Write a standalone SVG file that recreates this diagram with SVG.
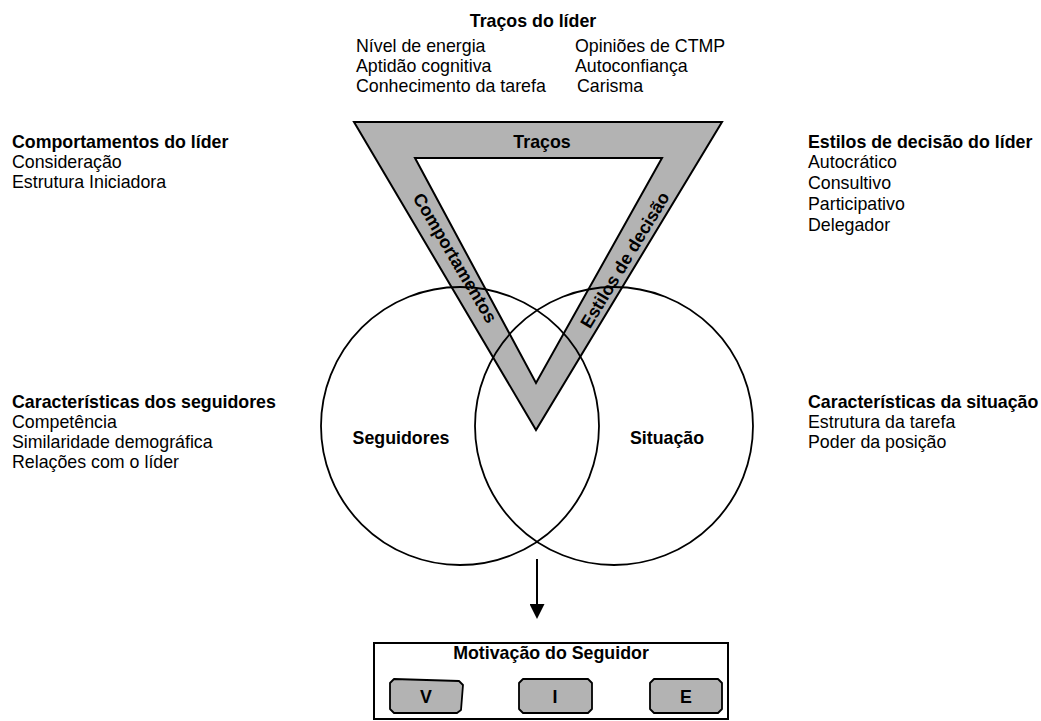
<svg xmlns="http://www.w3.org/2000/svg" width="1041" height="721" viewBox="0 0 1041 721">
<defs>
<style>
text{font-family:"Liberation Sans",Arial,sans-serif;font-size:17.8px;fill:#000}
.b{font-weight:bold}
.band{fill:#b3b3b3;stroke:#000;stroke-width:2;stroke-linejoin:miter}
.circ{fill:none;stroke:#000;stroke-width:1.8}
.vbox{fill:#b3b3b3;stroke:#000;stroke-width:1.8;stroke-linejoin:round}
</style>
<marker id="ah" markerWidth="15" markerHeight="15" refX="0" refY="7.5" orient="auto" markerUnits="userSpaceOnUse" viewBox="0 0 15 15"><path d="M0,0 L15,7.5 L0,15 z" fill="#000"/></marker>
</defs>
<rect width="1041" height="721" fill="#fff"/>

<g id="traits-list">
<text class="b" x="533" y="27" text-anchor="middle">Traços do líder</text>
<text x="356" y="52">Nível de energia</text>
<text x="356" y="72">Aptidão cognitiva</text>
<text x="356" y="92">Conhecimento da tarefa</text>
<text x="575" y="52">Opiniões de CTMP</text>
<text x="575" y="72">Autoconfiança</text>
<text x="577" y="92">Carisma</text>
</g>

<g id="behaviors-list">
<text class="b" x="12" y="148">Comportamentos do líder</text>
<text x="12" y="168">Consideração</text>
<text x="12" y="188">Estrutura Iniciadora</text>
</g>

<g id="decision-list">
<text class="b" x="808" y="148">Estilos de decisão do líder</text>
<text x="808" y="168">Autocrático</text>
<text x="808" y="189">Consultivo</text>
<text x="808" y="210">Participativo</text>
<text x="808" y="231">Delegador</text>
</g>

<g id="followers-list">
<text class="b" x="12" y="408">Características dos seguidores</text>
<text x="12" y="428">Competência</text>
<text x="12" y="448">Similaridade demográfica</text>
<text x="12" y="468">Relações com o líder</text>
</g>

<g id="situation-list">
<text class="b" x="808" y="408">Características da situação</text>
<text x="808" y="428">Estrutura da tarefa</text>
<text x="808" y="448">Poder da posição</text>
</g>

<g id="leader-triangle">
<path class="band" fill-rule="evenodd" d="M354,122 L722,122 L536,430 Z M415,158 L536,383 L662,158 Z"/>
<text class="b" x="542" y="148" text-anchor="middle">Traços</text>
<text class="b" text-anchor="middle" transform="translate(455,258) rotate(59.4)" y="6">Comportamentos</text>
<text class="b" text-anchor="middle" transform="translate(625,260) rotate(-58.9)" y="6">Estilos de decisão</text>
</g>

<g id="followers">
<circle class="circ" cx="460" cy="426" r="139"/>
<text class="b" x="401" y="444" text-anchor="middle">Seguidores</text>
</g>

<g id="situation">
<circle class="circ" cx="614" cy="426" r="139"/>
<text class="b" x="667" y="444" text-anchor="middle">Situação</text>
</g>

<g id="connectors">
<line x1="537" y1="559" x2="537" y2="604" stroke="#000" stroke-width="2" marker-end="url(#ah)"/>
</g>

<g id="motivation">
<rect x="374" y="643" width="354" height="76" fill="#fff" stroke="#000" stroke-width="2"/>
<text class="b" x="551" y="659" text-anchor="middle">Motivação do Seguidor</text>
<g id="v-box">
<path class="vbox" d="M394,679 L459,681 L463,685 L461,710 L457,713 L394,713 L390,709 L390,683 Z"/>
<text class="b" x="426" y="703" text-anchor="middle">V</text>
</g>
<g id="i-box">
<path class="vbox" d="M523,679 L588,679 L592,683 L592,709 L588,713 L523,713 L519,709 L519,683 Z"/>
<text class="b" x="555" y="703" text-anchor="middle">I</text>
</g>
<g id="e-box">
<path class="vbox" d="M654,679 L718,679 L722,683 L722,709 L718,713 L654,713 L650,709 L650,683 Z"/>
<text class="b" x="686" y="703" text-anchor="middle">E</text>
</g>
</g>
</svg>
